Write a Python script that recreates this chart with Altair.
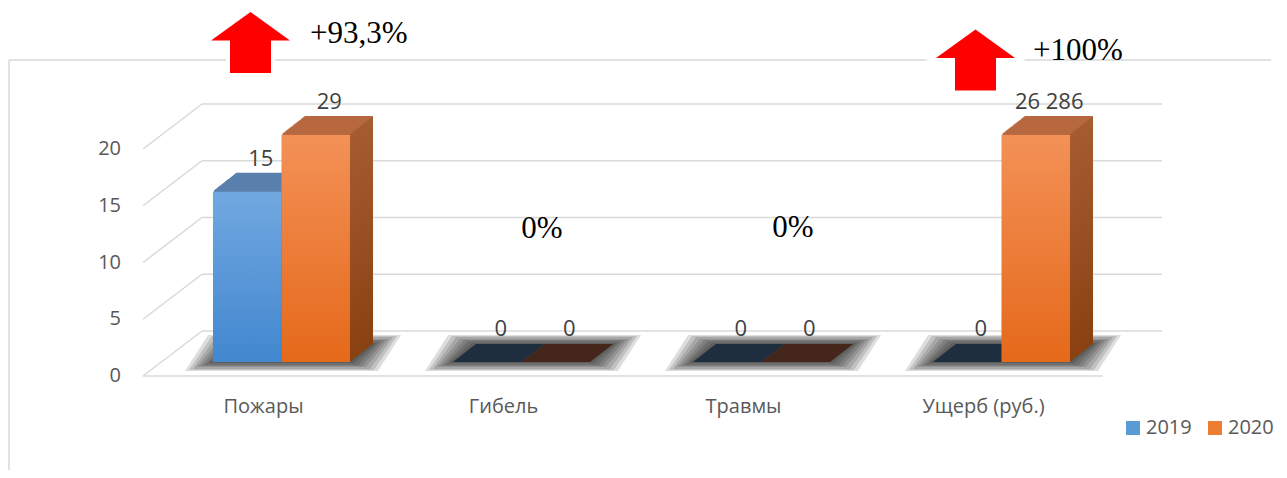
import altair as alt
import pandas as pd

# ---------------- data ----------------
categories = ["Пожары", "Гибель", "Травмы", "Ущерб (руб.)"]
years = ["2019", "2020"]
values_2019 = [15, 0, 0, 0]
values_2020 = [29, 0, 0, 26286]
y_ticks = [0, 5, 10, 15, 20]

df = pd.DataFrame({
    "cat": categories * 2,
    "year": [years[0]] * len(categories) + [years[1]] * len(categories),
    "value": values_2019 + values_2020,
})
ticks_df = pd.DataFrame({"v": y_ticks})
cats_df = pd.DataFrame({"cat": categories})

FONT = "Open Sans"
SERIF = "Liberation Serif"
GRID = "#d9d9d9"
W, H = 960, 227

yscale = alt.Scale(domain=[0, 20], clamp=True, nice=False, zero=True)
xoff_scale = alt.Scale(domain=years, range=[0, 137], paddingInner=0, paddingOuter=0)


def X(axis=None, shift=0.0):
    return alt.X("cat:N", sort=categories, axis=axis,
                 scale=alt.Scale(domain=categories, paddingInner=0.429, paddingOuter=0.2145,
                                 range=[shift, W + shift]))


def Y(axis=None):
    return alt.Y("value:Q", scale=yscale, axis=axis)


XO = alt.XOffset("year:N", scale=xoff_scale)


def grad(c1, c2):
    return alt.Gradient(
        gradient="linear",
        stops=[alt.GradientStop(color=c1, offset=0), alt.GradientStop(color=c2, offset=1)],
        x1=0, x2=0, y1=0, y2=1,
    )


front_grad = {"2019": grad("#71a8e0", "#4287cf"), "2020": grad("#f39157", "#e5691a")}
side_grad = {"2019": grad("#4f78a6", "#2f5b8c"), "2020": grad("#a65c31", "#8a4111")}
face_domain = ["2019", "2020", "2019 z", "2020 z"]
face_range = ["#5a80ac", "#b8693f", "#1f2e3f", "#45261a"]

DX0 = 18.5      # shift of bars from band position (3D placement)
DY0 = -14       # floor of the bars above front floor line
DEPTH = 23
SLOPE = 18 / 23
HALF = 34.25    # half of a sub-band

layers = []

# ---------------- outer frame ----------------
frame = alt.Chart(cats_df.head(1))
layers.append(frame.mark_rule(color=GRID, strokeWidth=1.5).encode(
    x=alt.value(-134), x2=alt.value(1128), y=alt.value(-89)))
layers.append(frame.mark_rule(color=GRID, strokeWidth=1.5).encode(
    x=alt.value(-134), y=alt.value(-89), y2=alt.value(321)))

# ---------------- grid (back wall, diagonals, floor) ----------------
tick_chart = alt.Chart(ticks_df)
layers.append(tick_chart.mark_rule(color=GRID, strokeWidth=1.5, yOffset=-45).encode(
    x=alt.value(59), x2=alt.value(1019),
    y=alt.Y("v:Q", scale=yscale, axis=None),
))
layers.append(tick_chart.mark_rule(color=GRID, strokeWidth=1.5, y2Offset=-45).encode(
    x=alt.value(0), x2=alt.value(59),
    y=alt.Y("v:Q", scale=yscale, axis=None), y2="v:Q",
))
layers.append(alt.Chart(cats_df.head(1)).mark_rule(color=GRID, strokeWidth=1.5).encode(
    x=alt.value(0), x2=alt.value(W), y=alt.Y(datum=0, scale=yscale, axis=None)))
# y tick labels
layers.append(tick_chart.mark_text(align="right", baseline="middle", font=FONT, fontSize=20,
                                   color="#595959").encode(
    x=alt.value(-22), y=alt.Y("v:Q", scale=yscale, axis=None), text="v:Q"))

# ---------------- floor shadows ----------------
def para_path(pts):
    return "M" + " L".join(f"{a},{b}" for a, b in pts) + " Z"


def shadow_path(eh, ev):
    return para_path([(-80 - eh, 9 + ev), (57 + eh, 9 + ev), (80 + eh, -9 - ev), (-57 - eh, -9 - ev)])


first = True
for eh, ev in [(28, 9), (24, 8), (20, 7), (16, 5), (12, 4), (8, 3), (4, 1), (0, 0)]:
    layers.append(alt.Chart(cats_df).mark_point(
        shape=shadow_path(eh, ev), size=4, filled=True, color="#000000", opacity=0.13,
        xOffset=30, yOffset=-23).encode(
        x=X(alt.Axis(title=None, domain=False, ticks=False, labelFont=FONT, labelFontSize=20,
                     labelColor="#595959", labelPadding=20, labelAngle=0)) if first else X(),
        y=alt.Y(datum=0, scale=yscale, axis=None),
    ))
    first = False

# ---------------- 3D extrusion (top faces) ----------------
bars = alt.Chart(df).transform_calculate(
    face="datum.value == 0 ? datum.year + ' z' : datum.year")
for k in range(DEPTH, 0, -1):
    oy = DY0 - SLOPE * k
    layers.append(bars.transform_filter("datum.value > 0").mark_bar(
        yOffset=oy - 1, y2Offset=oy).encode(
        x=X(shift=DX0 + k), xOffset=XO, y=Y(),
        color=alt.Color("face:N", scale=alt.Scale(domain=face_domain, range=face_range), legend=None),
    ))

# flat top faces of zero-height bars
zero_face = para_path([(-45.75, 9), (22.75, 9), (45.75, -9), (-22.75, -9)])
layers.append(bars.transform_filter("datum.value == 0").mark_point(
    shape=zero_face, size=4, filled=True, opacity=1, yOffset=-23).encode(
    x=X(shift=DX0 + 11.5), xOffset=XO, y=Y(),
    color=alt.Color("face:N", scale=alt.Scale(domain=face_domain, range=face_range), legend=None),
))

# ---------------- side faces ----------------
for yr in years:
    side = alt.Chart(df).transform_filter(
        f"datum.year == '{yr}' && datum.value > 0")
    for k in range(DEPTH, 0, -1):
        oy = DY0 - SLOPE * k
        layers.append(side.mark_bar(width=1.6, yOffset=oy, y2Offset=oy, color=side_grad[yr]).encode(
            x=X(shift=DX0 + HALF + k - 0.8), xOffset=XO, y=Y()))

# ---------------- front faces ----------------
for yr in years:
    layers.append(alt.Chart(df).transform_filter(
        f"datum.year == '{yr}' && datum.value > 0").mark_bar(
        yOffset=DY0, y2Offset=DY0, color=front_grad[yr]).encode(
        x=X(shift=DX0), xOffset=XO, y=Y()))

# ---------------- value labels ----------------
layers.append(alt.Chart(df).transform_calculate(
    label="replace(format(datum.value, ','), regexp(',', 'g'), ' ')").mark_text(
    font=FONT, fontSize=22, color="#404040", yOffset=-47,
    align="center", baseline="middle").encode(
    x=X(shift=32), xOffset=XO, y=Y(), text="label:N"))

# ---------------- annotations ----------------
arrow_path = "M0,-30.5 L39.5,-2 L20.5,-2 L20.5,30.5 L-20.5,30.5 L-20.5,-2 L-39.5,-2 Z"
for cat, dx, yy in [("Пожары", -12.5, -106.5), ("Ущерб (руб.)", -7.5, -89)]:
    one = alt.Chart(pd.DataFrame({"cat": [cat]}))
    layers.append(one.mark_point(shape=arrow_path, size=4, filled=True, fill="white",
                                 stroke="white", strokeWidth=8, opacity=1, xOffset=dx).encode(
        x=X(), y=alt.value(yy)))
    layers.append(one.mark_point(shape=arrow_path, size=4, filled=True, color="#ff0000",
                                 opacity=1, strokeWidth=0, xOffset=dx).encode(
        x=X(), y=alt.value(yy)))

for cat, txt, dx, yy, al in [("Пожары", "+93,3%", 47, -115, "left"),
                             ("Ущерб (руб.)", "+100%", 50, -98, "left"),
                             ("Гибель", "0%", 39, 80, "center"),
                             ("Травмы", "0%", 50, 79, "center")]:
    layers.append(alt.Chart(pd.DataFrame({"cat": [cat], "t": [txt]})).mark_text(
        font=SERIF, fontSize=31, color="#000000", align=al, baseline="middle",
        xOffset=dx).encode(x=X(), y=alt.value(yy), text="t:N"))

# ---------------- legend ----------------
layers.append(alt.Chart(df).mark_square(size=0, opacity=1, filled=True).encode(
    x=X(), xOffset=XO, y=Y(),
    color=alt.Color("year:N", scale=alt.Scale(domain=years, range=["#5b9bd5", "#ed7d31"]),
                    legend=alt.Legend(title=None, orient="none", legendX=980, legendY=269,
                                      direction="horizontal", columns=2, symbolType="square",
                                      symbolSize=196, symbolStrokeWidth=0, symbolOpacity=1,
                                      labelFont=FONT, labelFontSize=20, labelColor="#595959",
                                      columnPadding=13, labelOffset=3, padding=0)),
))

chart = alt.layer(*layers).properties(
    width=W, height=H,
    autosize=alt.AutoSizeParams(type="none"),
    padding={"left": 135, "top": 141, "right": 176, "bottom": 94},
    background="white",
).resolve_scale(x="independent", color="independent").configure_view(stroke=None)

chart.save("out.html", embed_options={"renderer": "svg", "actions": False})
